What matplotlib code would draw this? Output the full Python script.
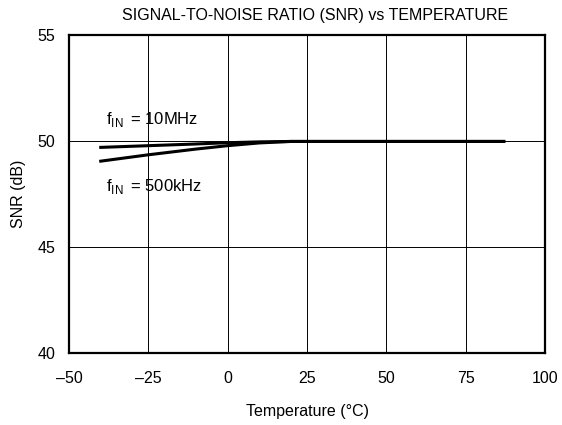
import numpy as np
import matplotlib.pyplot as plt

plt.rcParams['font.family'] = ['Liberation Sans', 'DejaVu Sans']

# data
temp = [-40, -25, -10, 0, 10, 20, 30, 40, 50, 60, 70, 80, 87]
snr_10mhz = [49.70, 49.78, 49.86, 49.92, 49.96, 49.98, 49.98, 49.98, 49.98, 49.98, 49.98, 49.98, 49.98]
snr_500khz = [49.05, 49.35, 49.62, 49.78, 49.91, 49.98, 49.98, 49.98, 49.98, 49.98, 49.98, 49.98, 49.98]

xticks = [-50, -25, 0, 25, 50, 75, 100]
xticklabels = ['\u201350', '\u201325', '0', '25', '50', '75', '100']
yticks = [40, 45, 50, 55]

fig = plt.figure(figsize=(5.62, 4.25), dpi=100)
ax = fig.add_axes([0.1228, 0.1694, 0.847, 0.7482])

ax.plot(temp, snr_10mhz, color='black', lw=2.2)
ax.plot(temp, snr_500khz, color='black', lw=2.2)

ax.set_xlim(-50, 100)
ax.set_ylim(40, 55)
ax.set_xticks(xticks)
ax.set_xticklabels(xticklabels)
ax.set_yticks(yticks)
ax.grid(True, color='black', lw=0.7)
ax.tick_params(length=0, labelsize=11.5)
ax.tick_params(axis='x', pad=13)
ax.tick_params(axis='y', pad=10)
for s in ax.spines.values():
    s.set_linewidth(1.6)

ax.text(-38.5, 51.0, r'f$_{\mathregular{IN}}\,$ = 10MHz', fontsize=12, va='center')
ax.text(-38.5, 47.85, r'f$_{\mathregular{IN}}\,$ = 500kHz', fontsize=12, va='center')

ax.set_title('SIGNAL-TO-NOISE RATIO (SNR) vs TEMPERATURE', fontsize=11.5, pad=11, x=0.516)
ax.set_xlabel('Temperature (\u00b0C)', fontsize=11.5, labelpad=13)
ax.set_ylabel('SNR (dB)', fontsize=11.5, labelpad=8)

fig.savefig('out.png', dpi=100)
